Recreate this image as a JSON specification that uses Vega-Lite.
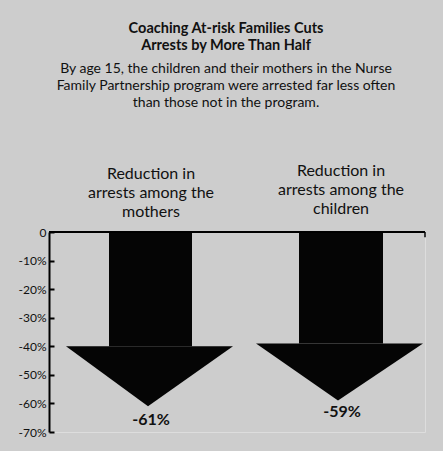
{
  "$schema": "https://vega.github.io/schema/vega-lite/v6.json",
  "width": 376,
  "height": 200,
  "autosize": {"type": "none"},
  "padding": {"left": 49, "top": 232, "right": 18, "bottom": 19},
  "background": "#cdcdcd",
  "config": {
    "axisY": {"labelOverlap": false, "labelBound": false, "labelFlush": false}
  },
  "title": {
    "text": ["Coaching At-risk Families Cuts", "Arrests by More Than Half"],
    "subtitle": ["By age 15, the children and their mothers in the Nurse", "Family Partnership program were arrested far less often", "than those not in the program."],
    "anchor": "middle",
    "dx": -11,
    "offset": 52,
    "font": "Lato",
    "fontSize": 14.5,
    "fontWeight": "bold",
    "lineHeight": 17,
    "color": "#111111",
    "subtitleFont": "Lato",
    "subtitleFontSize": 14,
    "subtitleLineHeight": 17,
    "subtitleColor": "#111111",
    "subtitlePadding": 9
  },
  "datasets": {
    "shafts": [
      {"arrow": "mothers", "x": 60, "x2": 143, "y": 0, "y2": -40},
      {"arrow": "children", "x": 250, "x2": 334, "y": 0, "y2": -39}
    ],
    "heads": [
      {"arrow": "mothers", "x": 17, "y": -40, "y2": -40},
      {"arrow": "mothers", "x": 99, "y": -61, "y2": -40},
      {"arrow": "mothers", "x": 184, "y": -40, "y2": -40},
      {"arrow": "children", "x": 207, "y": -39, "y2": -39},
      {"arrow": "children", "x": 289, "y": -59, "y2": -39},
      {"arrow": "children", "x": 374, "y": -39, "y2": -39}
    ],
    "cats": [
      {"x": 102, "y": 18.7, "label": "Reduction in|arrests among the|mothers"},
      {"x": 292, "y": 19.5, "label": "Reduction in|arrests among the|children"}
    ],
    "values": [
      {"x": 102, "y": -67.4, "label": "-61%"},
      {"x": 293, "y": -64.9, "label": "-59%"}
    ],
    "topline": [{"x": 0, "x2": 376, "y": 0}],
    "endtick": [{"x": 376, "y": 0, "y2": -1.8}]
  },
  "layer": [
    {
      "data": {"name": "shafts"},
      "mark": {"type": "rect", "color": "#050505"},
      "encoding": {
        "x": {"field": "x", "type": "quantitative", "scale": {"domain": [0, 376], "nice": false, "zero": false}, "axis": null},
        "x2": {"field": "x2"},
        "y": {"field": "y", "type": "quantitative", "scale": {"domain": [-70, 0], "nice": false, "zero": false},
          "axis": {
            "values": [-70, -60, -50, -40, -30, -20, -10, 0],
            "tickCount": 20,
            "labelExpr": "datum.value == 0 ? '0' : datum.value + '%'",
            "title": null,
            "grid": false,
            "domainColor": "#000000",
            "domainWidth": 2,
            "tickColor": "#000000",
            "tickWidth": 2,
            "tickSize": -5,
            "labelPadding": 8,
            "labelOverlap": false,
            "labelFont": "Lato",
            "labelFontSize": 12,
            "labelColor": "#111111"
          }
        },
        "y2": {"field": "y2"}
      }
    },
    {
      "data": {"name": "heads"},
      "mark": {"type": "area", "color": "#050505", "interpolate": "linear"},
      "encoding": {
        "x": {"field": "x", "type": "quantitative"},
        "y": {"field": "y", "type": "quantitative"},
        "y2": {"field": "y2"},
        "detail": {"field": "arrow", "type": "nominal"}
      }
    },
    {
      "data": {"name": "topline"},
      "mark": {"type": "rule", "color": "#000000", "strokeWidth": 2},
      "encoding": {
        "x": {"field": "x", "type": "quantitative"},
        "x2": {"field": "x2"},
        "y": {"field": "y", "type": "quantitative"}
      }
    },
    {
      "data": {"name": "endtick"},
      "mark": {"type": "rule", "color": "#000000", "strokeWidth": 1.5},
      "encoding": {
        "x": {"field": "x", "type": "quantitative"},
        "y": {"field": "y", "type": "quantitative"},
        "y2": {"field": "y2"}
      }
    },
    {
      "data": {"name": "cats"},
      "mark": {"type": "text", "font": "Lato", "fontSize": 16, "lineBreak": "|", "lineHeight": 19, "align": "center", "baseline": "alphabetic", "color": "#111111"},
      "encoding": {
        "x": {"field": "x", "type": "quantitative"},
        "y": {"field": "y", "type": "quantitative"},
        "text": {"field": "label", "type": "nominal"}
      }
    },
    {
      "data": {"name": "values"},
      "mark": {"type": "text", "font": "Lato", "fontSize": 16, "fontWeight": "bold", "align": "center", "baseline": "alphabetic", "color": "#111111"},
      "encoding": {
        "x": {"field": "x", "type": "quantitative"},
        "y": {"field": "y", "type": "quantitative"},
        "text": {"field": "label", "type": "nominal"}
      }
    }
  ]
}
